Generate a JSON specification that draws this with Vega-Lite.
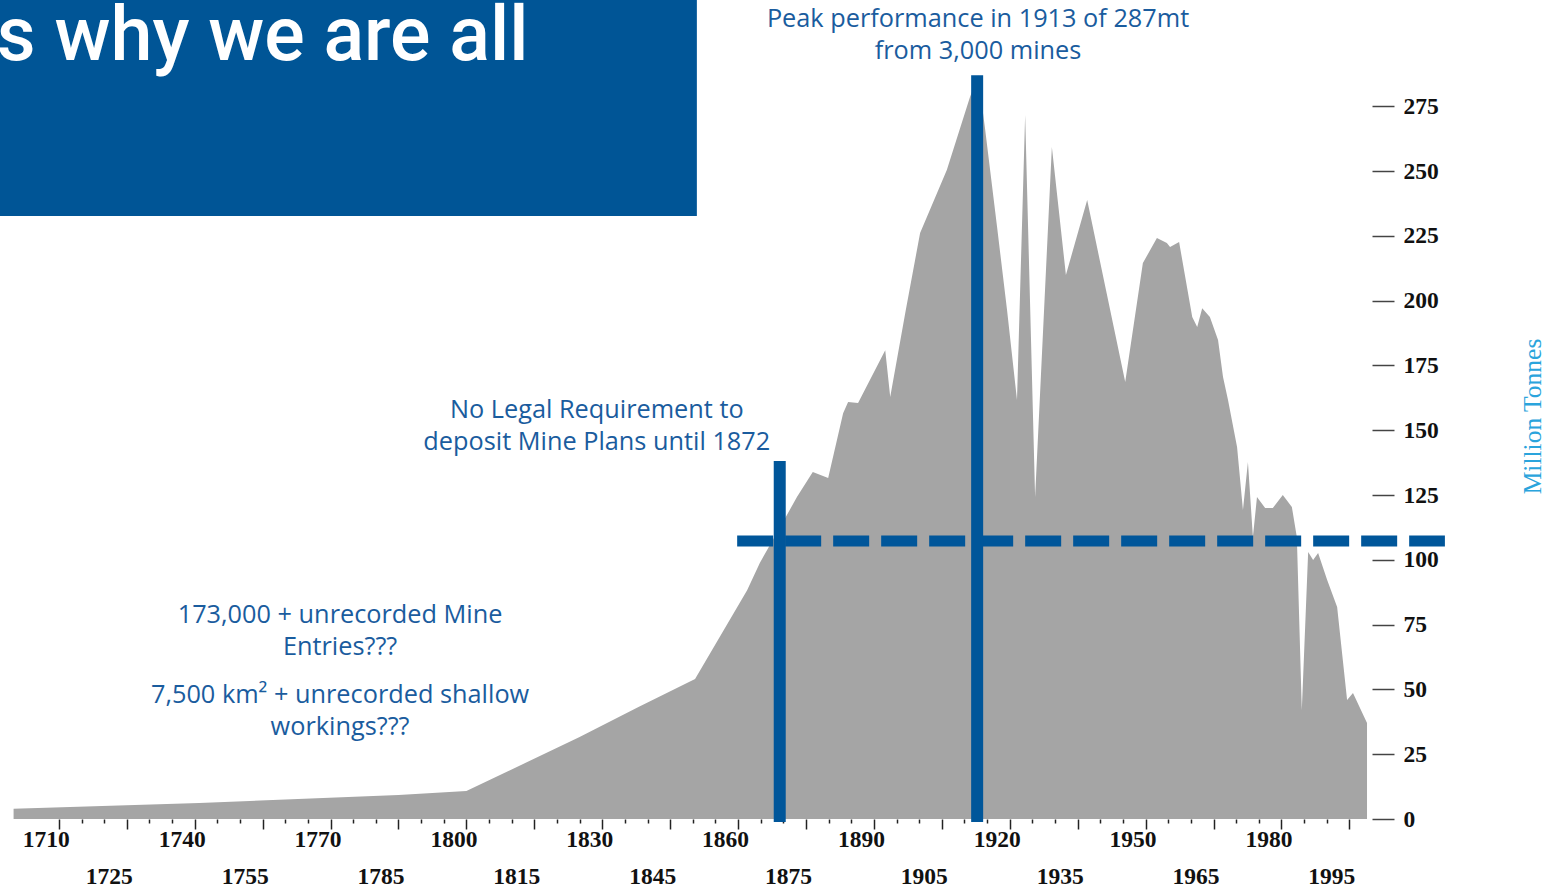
{
  "$schema": "https://vega.github.io/schema/vega-lite/v6.json",
  "width": 1372,
  "height": 819,
  "autosize": {"type": "none"},
  "padding": {"left": 0, "top": 0, "right": 179, "bottom": 70},
  "background": "#ffffff",
  "config": {"view": {"stroke": null}},
  "resolve": {"axis": {"x": "independent", "y": "independent"}},
  "layer": [
    {
      "data": {"values": [
        {"year": 1700, "mt": 4}, {"year": 1741, "mt": 6.2}, {"year": 1785, "mt": 9.3}, {"year": 1800, "mt": 10.8},
        {"year": 1825, "mt": 31.6}, {"year": 1838, "mt": 43.2}, {"year": 1850.5, "mt": 54}, {"year": 1862, "mt": 88.3},
        {"year": 1864.8, "mt": 98.8}, {"year": 1869.3, "mt": 112.7}, {"year": 1873, "mt": 124.2}, {"year": 1876.5, "mt": 133.9},
        {"year": 1879.9, "mt": 131.6}, {"year": 1883.2, "mt": 156.6}, {"year": 1884.3, "mt": 160.9}, {"year": 1886.5, "mt": 160.5},
        {"year": 1892.5, "mt": 180.9}, {"year": 1893.6, "mt": 162.8}, {"year": 1897, "mt": 196}, {"year": 1900.2, "mt": 226.1}, {"year": 1906.1, "mt": 250.4},
        {"year": 1911.2, "mt": 278.5}, {"year": 1913, "mt": 287}, {"year": 1914.5, "mt": 267}, {"year": 1917.2, "mt": 228.4},
        {"year": 1919.4, "mt": 196.4}, {"year": 1921.6, "mt": 161.7}, {"year": 1923.4, "mt": 271.6}, {"year": 1925.6, "mt": 124.2},
        {"year": 1929.3, "mt": 259.3}, {"year": 1932.4, "mt": 209.9}, {"year": 1937.1, "mt": 238.8}, {"year": 1945.5, "mt": 168.6},
        {"year": 1949.4, "mt": 214.5}, {"year": 1952.5, "mt": 224.2}, {"year": 1954.7, "mt": 222.2}, {"year": 1955.4, "mt": 220.7},
        {"year": 1957.4, "mt": 222.6}, {"year": 1960.3, "mt": 193.7}, {"year": 1961.4, "mt": 189.8}, {"year": 1962.5, "mt": 197.1},
        {"year": 1964.2, "mt": 193.7}, {"year": 1966, "mt": 184.8}, {"year": 1967.1, "mt": 170.5}, {"year": 1968.2, "mt": 161.7},
        {"year": 1970.2, "mt": 143.5}, {"year": 1971.5, "mt": 119.2}, {"year": 1972.6, "mt": 137.7}, {"year": 1973.7, "mt": 108.8},
        {"year": 1974.6, "mt": 124.2}, {"year": 1976.4, "mt": 120}, {"year": 1978.1, "mt": 120}, {"year": 1980.3, "mt": 125},
        {"year": 1982.3, "mt": 120.4}, {"year": 1983.4, "mt": 108.8}, {"year": 1984.5, "mt": 42.1}, {"year": 1985.9, "mt": 103},
        {"year": 1987, "mt": 99.9}, {"year": 1988.1, "mt": 102.6}, {"year": 1990.1, "mt": 92.2}, {"year": 1992.3, "mt": 81.8},
        {"year": 1994.5, "mt": 45.9}, {"year": 1995.8, "mt": 48.6}, {"year": 1998.9, "mt": 37}
      ]},
      "mark": {"type": "area", "color": "#a5a5a5", "interpolate": "linear"},
      "encoding": {
        "x": {
          "field": "year", "type": "quantitative",
          "scale": {"domain": [1697, 2000], "nice": false, "zero": false},
          "axis": {
            "orient": "bottom",
            "title": null,
            "values": [1710, 1715, 1720, 1725, 1730, 1735, 1740, 1745, 1750, 1755, 1760, 1765, 1770, 1775, 1780, 1785, 1790, 1795, 1800, 1805, 1810, 1815, 1820, 1825, 1830, 1835, 1840, 1845, 1850, 1855, 1860, 1865, 1870, 1875, 1880, 1885, 1890, 1895, 1900, 1905, 1910, 1915, 1920, 1925, 1930, 1935, 1940, 1945, 1950, 1955, 1960, 1965, 1970, 1975, 1980, 1985, 1990, 1995],
            "format": "d",
            "domain": false,
            "grid": false,
            "ticks": true,
            "tickColor": "#222222",
            "tickWidth": 1.5,
            "tickSize": {"expr": "datum.value % 15 == 0 ? 10 : 4"},
            "labelExpr": "datum.value % 15 == 0 ? datum.label : ''",
            "labelPadding": {"expr": "(datum.value - 1710) % 30 == 0 ? -2 : 35"},
            "labelOffset": {"expr": "(datum.value - 1710) % 30 == 0 ? -13 : -18"},
            "labelFont": "Liberation Serif",
            "labelFontWeight": "bold",
            "labelFontSize": 23.5,
            "labelColor": "#111111",
            "labelBaseline": "top",
            "labelOverlap": false,
            "labelFlush": false,
            "labelBound": false
          }
        },
        "y": {
          "field": "mt", "type": "quantitative",
          "scale": {"domain": [0, 316], "nice": false, "zero": false},
          "axis": {
            "orient": "right",
            "values": [0, 25, 50, 75, 100, 125, 150, 175, 200, 225, 250, 275],
            "domain": false,
            "grid": false,
            "tickSize": 22,
            "tickColor": "#444444",
            "tickWidth": 1.5,
            "labelPadding": 9,
            "labelFont": "Liberation Serif",
            "labelFontWeight": "bold",
            "labelFontSize": 23.5,
            "labelColor": "#111111",
            "labelAlign": "left",
            "labelBaseline": "middle",
            "labelOverlap": false,
            "labelFlush": false,
            "title": "Million Tonnes",
            "titleFont": "Liberation Serif",
            "titleFontWeight": "normal",
            "titleFontSize": 25.5,
            "titleColor": "#2aa4dc",
            "titleAngle": 270,
            "titleX": 160,
            "titleY": 416,
            "titleAlign": "center",
            "titleBaseline": "middle"
          }
        }
      }
    },
    {
      "data": {"values": [{"x0": 1690, "x1": 1850.9, "y0": 232.7, "y1": 330}]},
      "mark": {"type": "rect", "color": "#005596", "clip": false},
      "encoding": {
        "x": {"field": "x0", "type": "quantitative", "axis": null},
        "x2": {"field": "x1"},
        "y": {"field": "y0", "type": "quantitative", "axis": null},
        "y2": {"field": "y1"}
      }
    },
    {
      "data": {"values": [{"year": 1696.3, "v": 292.8, "label": "s why we are all"}]},
      "mark": {"type": "text", "align": "left", "baseline": "alphabetic", "font": "Roboto", "fontWeight": 500, "fontSize": 75.5, "color": "#ffffff", "clip": false},
      "encoding": {
        "x": {"field": "year", "type": "quantitative", "axis": null},
        "y": {"field": "v", "type": "quantitative", "axis": null},
        "text": {"field": "label"}
      }
    },
    {
      "data": {"values": [{"a": 1859.8, "b": 2016.1, "v": 107.3}]},
      "mark": {"type": "rule", "color": "#00569a", "strokeWidth": 11, "strokeDash": [36, 12], "strokeCap": "butt", "clip": false},
      "encoding": {
        "x": {"field": "a", "type": "quantitative", "axis": null},
        "x2": {"field": "b"},
        "y": {"field": "v", "type": "quantitative", "axis": null}
      }
    },
    {
      "data": {"values": [{"year": 1869.2, "lo": -1.2, "hi": 138.1}, {"year": 1912.8, "lo": -1.2, "hi": 287}]},
      "mark": {"type": "rule", "color": "#00569a", "strokeWidth": 12, "strokeCap": "butt", "clip": false},
      "encoding": {
        "x": {"field": "year", "type": "quantitative", "axis": null},
        "y": {"field": "lo", "type": "quantitative", "axis": null},
        "y2": {"field": "hi"}
      }
    },
    {
      "data": {"values": [
        {"year": 1913.0, "v": 305.6, "label": "Peak performance in 1913 of 287mt"},
        {"year": 1913.0, "v": 293.2, "label": "from 3,000 mines"},
        {"year": 1828.8, "v": 154.7, "label": "No Legal Requirement to"},
        {"year": 1828.8, "v": 142.4, "label": "deposit Mine Plans until 1872"},
        {"year": 1772.1, "v": 75.6, "label": "173,000 + unrecorded Mine"},
        {"year": 1772.1, "v": 63.3, "label": "Entries???"},
        {"year": 1772.1, "v": 44.8, "label": "7,500 km² + unrecorded shallow"},
        {"year": 1772.1, "v": 32.4, "label": "workings???"}
      ]},
      "mark": {"type": "text", "align": "center", "baseline": "alphabetic", "font": "Open Sans", "fontSize": 25.3, "color": "#1a5c9e", "clip": false},
      "encoding": {
        "x": {"field": "year", "type": "quantitative", "axis": null},
        "y": {"field": "v", "type": "quantitative", "axis": null},
        "text": {"field": "label"}
      }
    }
  ]
}
